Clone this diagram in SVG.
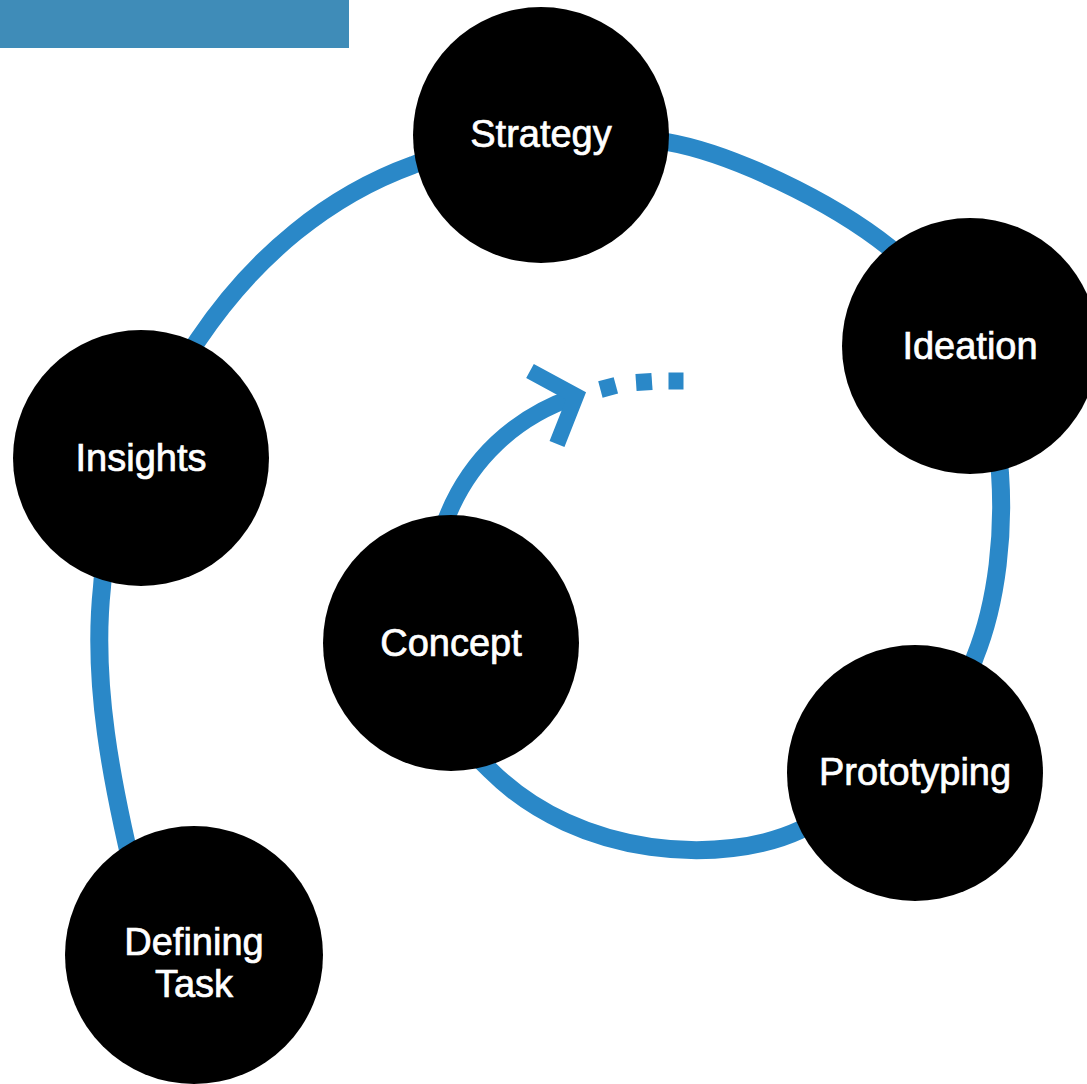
<svg xmlns="http://www.w3.org/2000/svg" width="1087" height="1084" viewBox="0 0 1087 1084">
  <style>
    .node circle { fill: #000000; }
    .node text { fill: #ffffff; stroke: #ffffff; stroke-width: 0.7px; font-family: "Liberation Sans", Arial, sans-serif; font-size: 38px; text-anchor: middle; }
    .flow { fill: none; stroke: #2a88c8; stroke-width: 18px; }
    .dot { fill: #2a88c8; }
  </style>
  <rect x="0" y="0" width="349" height="48" fill="#3f8cb8"/>
  <g id="connectors">
    <path class="flow" d="M 140 900 C 110 780, 92 680, 102 587 C 106 520, 150 410, 198 340 C 255 255, 330 195, 413 165 C 470 142, 590 128, 667 142 C 730 153, 830 200, 890 248 C 950 295, 995 390, 1000 473 C 1004 530, 998 600, 975 657 C 950 735, 880 805, 800 830 C 725 865, 580 860, 490 770 L 460 740"/>
    <path class="flow" style="stroke-width:17px" d="M 444 525 C 468 458, 518 416, 574 397"/>
    <polyline class="flow" style="stroke-width:16px" stroke-linejoin="miter" points="530,371 576,396 557,444"/>
    <rect class="dot" x="600" y="379" width="16" height="17" transform="rotate(-15 608 387)"/>
    <rect class="dot" x="636" y="373.5" width="16" height="17" transform="rotate(-4 644 382)"/>
    <rect class="dot" x="668.5" y="372.5" width="15" height="17"/>
  </g>
  <g id="strategy" class="node">
    <circle cx="541" cy="135" r="128"/>
    <text x="541" y="147">Strategy</text>
  </g>
  <g id="ideation" class="node">
    <circle cx="970" cy="346" r="128"/>
    <text x="970" y="359">Ideation</text>
  </g>
  <g id="insights" class="node">
    <circle cx="141" cy="458" r="128"/>
    <text x="141" y="471">Insights</text>
  </g>
  <g id="concept" class="node">
    <circle cx="451" cy="643" r="128"/>
    <text x="451" y="656">Concept</text>
  </g>
  <g id="prototyping" class="node">
    <circle cx="915" cy="773" r="128"/>
    <text x="915" y="785">Prototyping</text>
  </g>
  <g id="defining-task" class="node">
    <circle cx="194" cy="955" r="129"/>
    <text x="194" y="955">Defining</text>
    <text x="194" y="997">Task</text>
  </g>
</svg>
